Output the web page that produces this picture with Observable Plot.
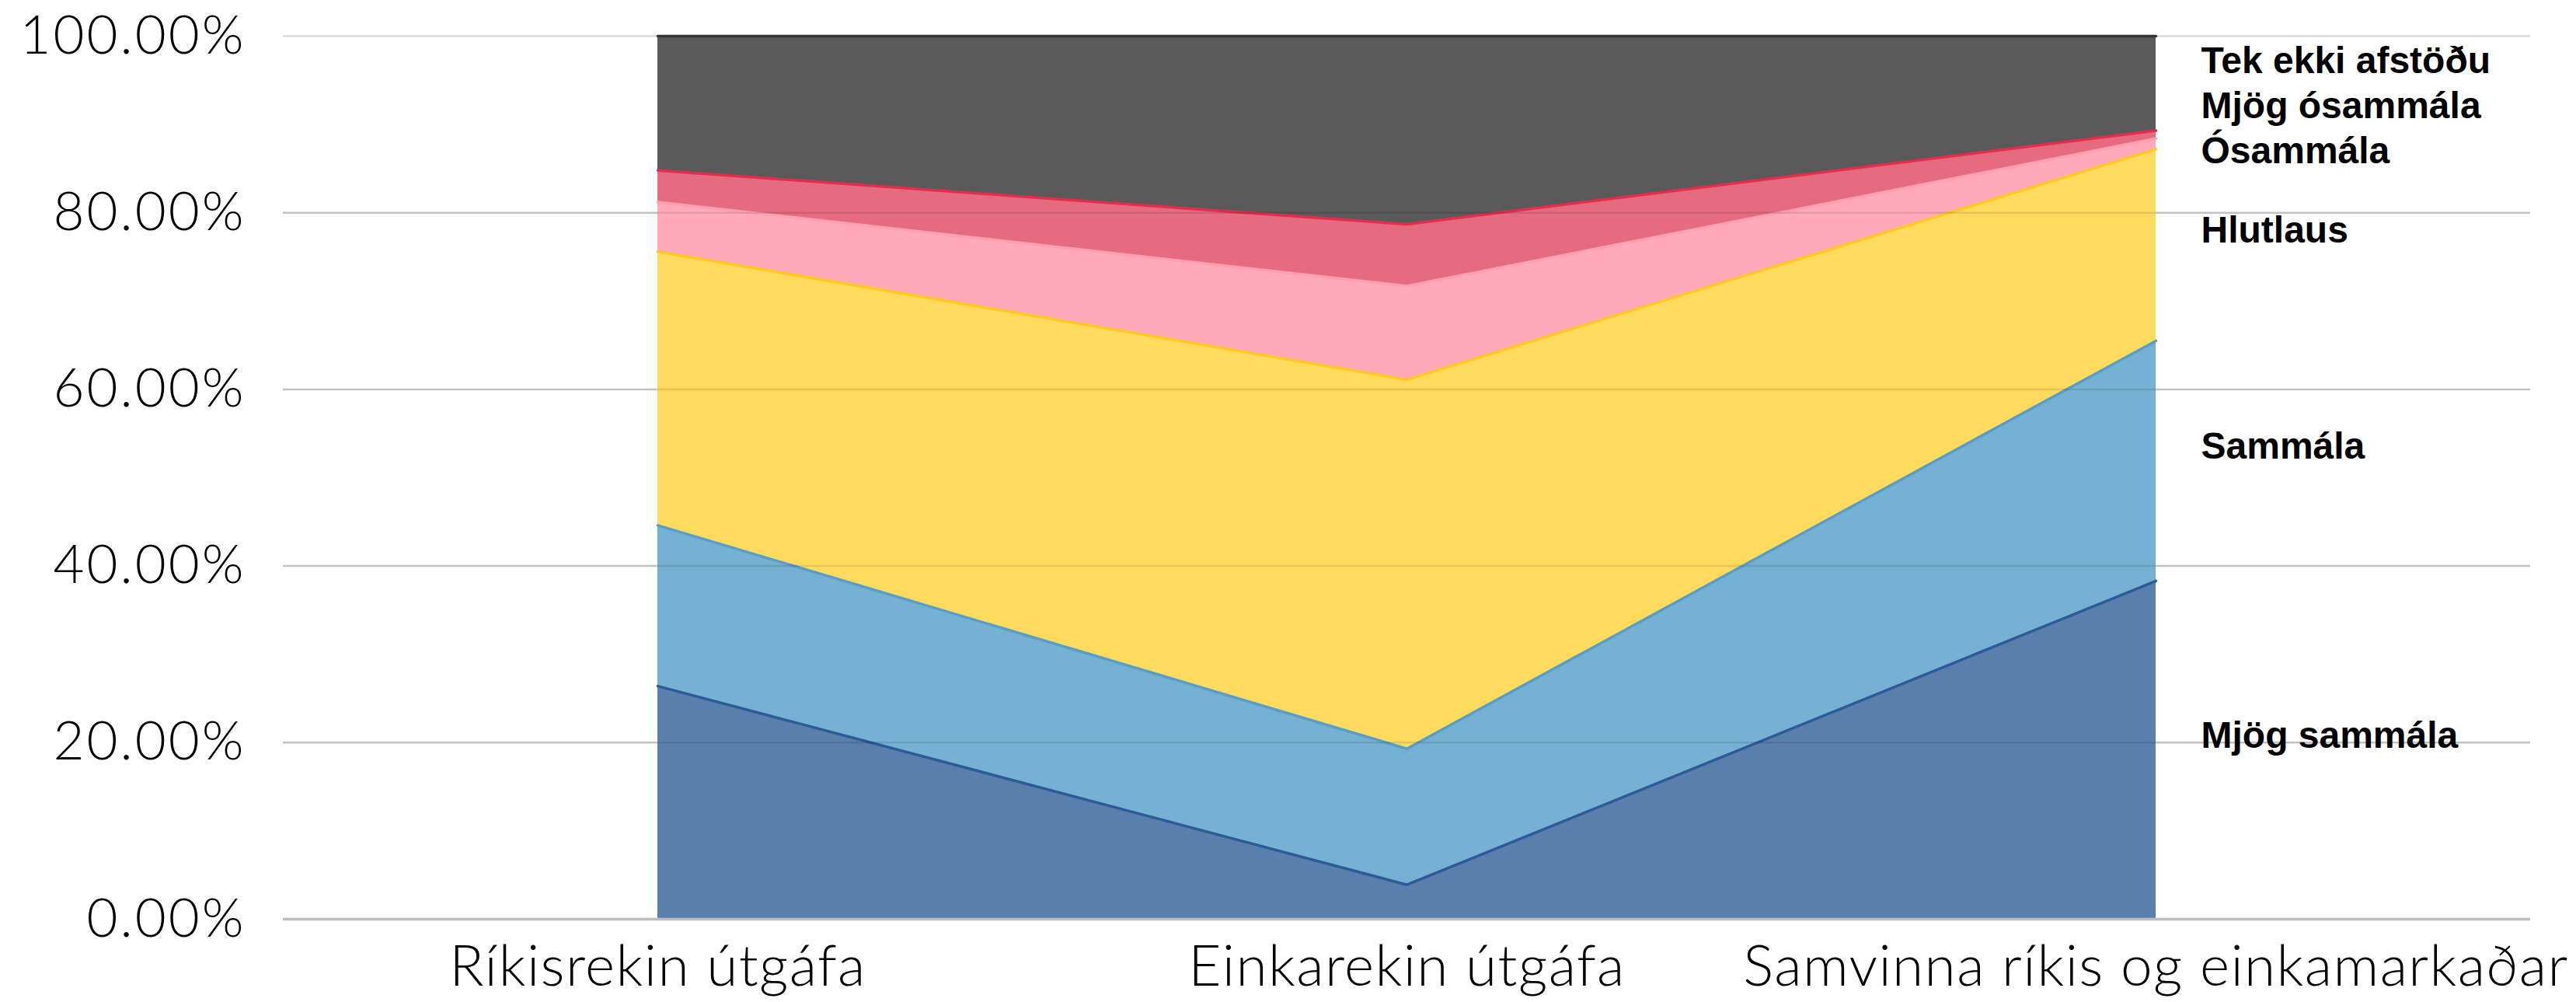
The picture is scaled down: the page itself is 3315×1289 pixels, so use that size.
<!DOCTYPE html>
<html>
<head>
<meta charset="utf-8">
<script src="https://cdn.jsdelivr.net/npm/d3@7"></script>
<script src="https://cdn.jsdelivr.net/npm/@observablehq/plot@0.6"></script>
<style>
  html, body { margin: 0; padding: 0; background: #ffffff; }
  g[aria-label="y-axis tick label"] text { letter-spacing: 3px; }
  g[aria-label="x-axis tick label"] text { letter-spacing: 1.4px; }
</style>
</head>
<body>
<div id="chart"></div>
<script>
// ---- Data (percent of respondents) ----
const categories = ["Ríkisrekin útgáfa", "Einkarekin útgáfa", "Samvinna ríkis og einkamarkaðar"];
const series = ["Mjög sammála", "Sammála", "Hlutlaus", "Ósammála", "Mjög ósammála", "Tek ekki afstöðu"];
const mjogSammala   = [26.4,  3.9, 38.3];
const sammala       = [18.2, 15.4, 27.2];
const hlutlaus      = [31.0, 41.8, 21.7];
const osammala      = [ 5.6, 10.6,  1.2];
const mjogOsammala  = [ 3.6,  7.0,  0.9];
const tekEkki       = [15.2, 21.3, 10.7];
const yTicks = [0, 20, 40, 60, 80, 100];

const seriesValues = [mjogSammala, sammala, hlutlaus, osammala, mjogOsammala, tekEkki];

// ---- Styles ----
const fills   = ["#5a7fac", "#74b1d2", "#fedb5d", "#ffa9b9", "#e66b80", "#5a5a5a"];
const strokes = ["#2d5a98", "#5a9ec7", "#ffc824", "#ff9fb2", "#de2f4e", "#333333"];
const fillOf = Object.fromEntries(series.map((s, i) => [s, fills[i]]));
const strokeOf = Object.fromEntries(series.map((s, i) => [s, strokes[i]]));

const data = series.flatMap((s, i) =>
  categories.map((c, j) => ({category: c, series: s, value: seriesValues[i][j]}))
);

// ---- Right-hand labels: midpoint of each layer at last category, dodged ----
const last = categories.length - 1;
let cum = 0;
const wanted = seriesValues.map((v) => { const m = cum + v[last] / 2; cum += v[last]; return m + 1.6; });
const gap = 5.1;
let clusters = [];
wanted.forEach((w, i) => {
  clusters.push({members: [i], sum: w});
  while (clusters.length > 1) {
    const b = clusters[clusters.length - 1], a = clusters[clusters.length - 2];
    const ca = a.sum / a.members.length, cb = b.sum / b.members.length;
    const topA = ca + (a.members.length - 1) / 2 * gap;
    const botB = cb - (b.members.length - 1) / 2 * gap;
    if (topA + gap > botB) {
      clusters.splice(clusters.length - 2, 2, {members: a.members.concat(b.members), sum: a.sum + b.sum});
    } else break;
  }
});
const labels = [];
clusters.forEach((c) => {
  const center = c.sum / c.members.length;
  c.members.forEach((idx, k) => {
    labels.push({name: series[idx], y: center + (k - (c.members.length - 1) / 2) * gap});
  });
});

const chart = Plot.plot({
  width: 3315,
  height: 1289,
  marginLeft: 364,
  marginRight: 59,
  marginTop: 46,
  marginBottom: 107,
  style: {fontFamily: "Lato, 'Open Sans', sans-serif", background: "#ffffff", color: "#000"},
  x: {type: "point", domain: categories, padding: 0.5, label: null},
  y: {domain: [0, 100], label: null},
  color: {type: "identity"},
  marks: [
    Plot.ruleY(yTicks.filter((d) => d > 0), {stroke: "#d9d9d9", strokeWidth: 2.5}),
    Plot.areaY(data, {
      x: "category", y: "value", z: "series", order: series,
      fill: (d) => fillOf[d.series], fillOpacity: 1
    }),
    Plot.lineY(data, Plot.stackY2({
      x: "category", y: "value", z: "series", order: series,
      stroke: (d) => strokeOf[d.series], strokeWidth: 3.5
    })),
    Plot.ruleY(yTicks.filter((d) => d > 0 && d < 100), {stroke: "#000", strokeOpacity: 0.1, strokeWidth: 2.5}),
    Plot.ruleY([0], {stroke: "#bdbdbd", strokeWidth: 3.5}),
    Plot.axisY({
      ticks: yTicks, tickSize: 0, tickPadding: 48,
      tickFormat: (d) => d.toFixed(2) + "%",
      fontSize: 69, fontWeight: 300, fill: "#000"
    }),
    Plot.axisX({tickSize: 0, tickPadding: 34, fontSize: 73, fontWeight: 300, fill: "#000"}),
    Plot.text(labels, {
      x: () => categories[last], y: "y", text: "name",
      dx: 58, textAnchor: "start", fontSize: 48, fontWeight: "bold",
      fontFamily: "'Liberation Sans', Arial, sans-serif", fill: "#000"
    })
  ]
});

document.getElementById("chart").appendChild(chart);
</script>
</body>
</html>
